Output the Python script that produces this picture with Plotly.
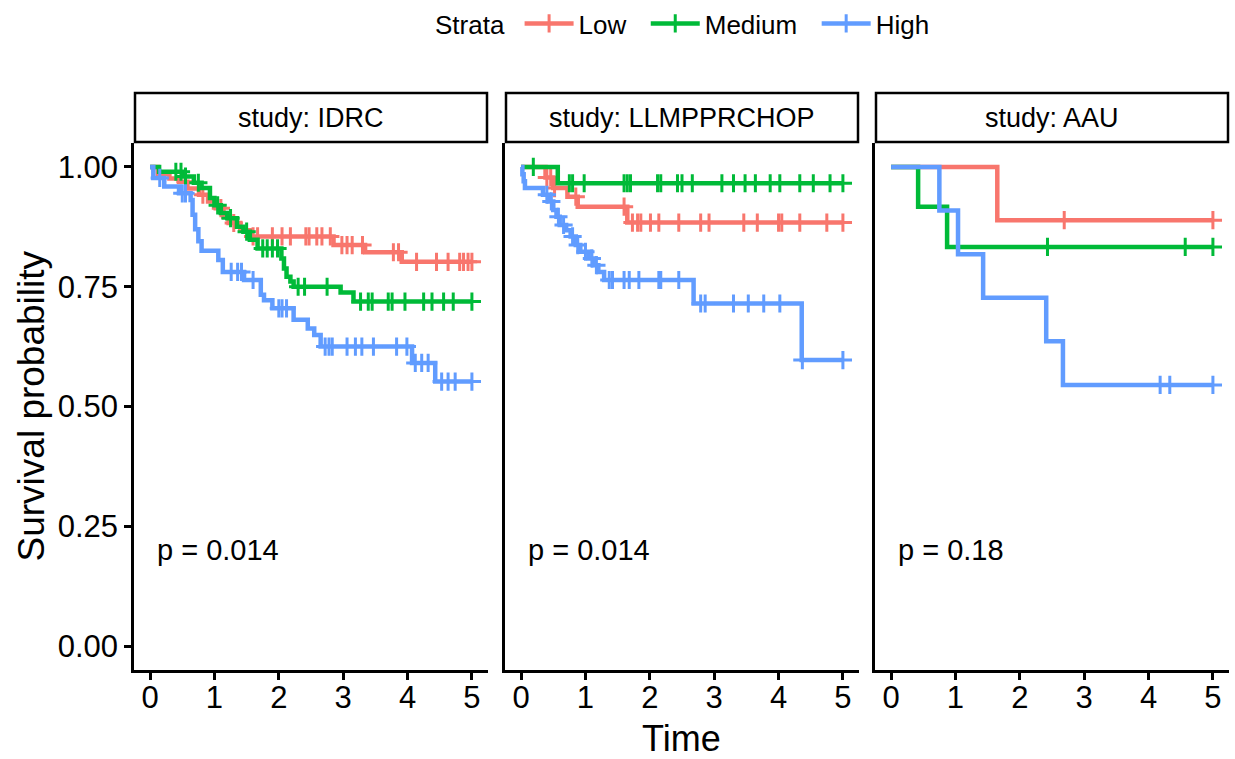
import numpy as np
import plotly.graph_objects as go

# ---------------- data ----------------
STUDIES = ["IDRC", "LLMPPRCHOP", "AAU"]
STRATA = ["Low", "Medium", "High"]
COLORS = ["#F8766D", "#00BA38", "#619CFF"]
P_VALUES = ["p = 0.014", "p = 0.014", "p = 0.18"]
Y_TICKS = [0.0, 0.25, 0.5, 0.75, 1.0]
Y_TICK_LABELS = ["0.00", "0.25", "0.50", "0.75", "1.00"]
X_TICKS = [0, 1, 2, 3, 4, 5]

# IDRC
IDRC_LOW_T = [0.12, 0.30, 0.45, 0.58, 0.76, 0.90, 1.02, 1.14, 1.22, 1.40, 1.56, 2.85, 3.34, 3.91]
IDRC_LOW_S = [0.985, 0.976, 0.969, 0.955, 0.942, 0.928, 0.914, 0.896, 0.883, 0.868, 0.855, 0.837, 0.822, 0.802]
IDRC_LOW_C = [0.55, 0.82, 1.10, 1.30, 1.60, 1.67, 1.90, 2.05, 2.18, 2.42, 2.47, 2.59, 2.67, 2.80,
              2.98, 3.06, 3.14, 3.30, 3.78, 3.86, 4.14, 4.45, 4.63, 4.81, 4.87, 4.94, 5.0]
IDRC_MED_T = [0.14, 0.53, 0.68, 0.80, 0.93, 1.00, 1.10, 1.20, 1.35, 1.45, 1.55, 1.67, 2.04, 2.08, 2.12, 2.18, 2.23, 2.96, 3.16]
IDRC_MED_S = [0.990, 0.980, 0.967, 0.956, 0.935, 0.920, 0.904, 0.893, 0.875, 0.865, 0.848, 0.830,
              0.809, 0.788, 0.771, 0.761, 0.750, 0.738, 0.719]
IDRC_MED_C = [0.40, 0.48, 0.55, 0.75, 1.05, 1.25, 1.50, 1.75, 1.82, 1.90, 1.98, 2.30, 2.40, 2.75,
              3.27, 3.39, 3.45, 3.70, 3.76, 3.96, 4.25, 4.38, 4.56, 4.71, 5.0]
IDRC_HIGH_T = [0.05, 0.22, 0.45, 0.63, 0.66, 0.70, 0.75, 0.80, 1.06, 1.13, 1.46, 1.72, 1.77, 1.90,
               2.23, 2.45, 2.55, 2.65, 4.07, 4.43]
IDRC_HIGH_S = [0.977, 0.959, 0.945, 0.931, 0.900, 0.870, 0.845, 0.825, 0.806, 0.781, 0.764, 0.733,
               0.722, 0.705, 0.681, 0.663, 0.649, 0.625, 0.591, 0.552]
IDRC_HIGH_C = [0.15, 0.50, 0.55, 1.26, 1.36, 1.42, 1.60, 2.00, 2.05, 2.12, 2.72, 2.78, 2.83, 3.06,
               3.19, 3.29, 3.47, 3.83, 3.99, 4.12, 4.22, 4.32, 4.53, 4.63, 4.74, 5.0]

# LLMPPRCHOP
LLM_LOW_T = [0.38, 0.50, 0.72, 0.88, 1.65]
LLM_LOW_S = [0.978, 0.956, 0.938, 0.917, 0.884]
LLM_LOW_C = [0.40, 0.46, 0.52, 0.85, 1.60, 1.73, 1.81, 1.86, 2.01, 2.14, 2.45, 2.79, 2.92, 3.46,
             3.67, 4.00, 4.05, 4.33, 4.75, 5.0]
LLM_MED_T = [0.57]
LLM_MED_S = [0.966]
LLM_MED_C = [0.19, 0.75, 0.80, 0.98, 1.60, 1.65, 1.70, 2.12, 2.17, 2.43, 2.50, 2.66, 3.12, 3.30,
             3.48, 3.64, 3.87, 4.02, 4.33, 4.54, 4.80, 5.0]
LLM_HIGH_T = [0.02, 0.04, 0.06, 0.34, 0.43, 0.50, 0.55, 0.60, 0.70, 0.77, 0.85, 0.92, 1.05, 1.12,
              1.20, 1.29, 2.68, 4.36]
LLM_HIGH_S = [0.985, 0.970, 0.956, 0.942, 0.928, 0.910, 0.896, 0.879, 0.868, 0.855, 0.837, 0.823,
              0.809, 0.795, 0.781, 0.764, 0.715, 0.597]
LLM_HIGH_C = [0.40, 0.47, 0.58, 0.66, 0.80, 0.88, 1.00, 1.10, 1.17, 1.37, 1.42, 1.60, 1.68, 1.83,
              2.14, 2.17, 2.45, 2.79, 2.86, 3.30, 3.53, 3.77, 4.02, 4.37, 5.0]

# AAU
AAU_LOW_T = [1.65]
AAU_LOW_S = [0.889]
AAU_LOW_C = [2.69, 5.0]
AAU_MED_T = [0.42, 0.87]
AAU_MED_S = [0.917, 0.833]
AAU_MED_C = [2.43, 4.57, 5.0]
AAU_HIGH_T = [0.75, 1.04, 1.43, 2.41, 2.67]
AAU_HIGH_S = [0.909, 0.818, 0.727, 0.636, 0.545]
AAU_HIGH_C = [4.18, 4.33, 5.0]

CURVES = [
    [(IDRC_LOW_T, IDRC_LOW_S, IDRC_LOW_C), (IDRC_MED_T, IDRC_MED_S, IDRC_MED_C), (IDRC_HIGH_T, IDRC_HIGH_S, IDRC_HIGH_C)],
    [(LLM_LOW_T, LLM_LOW_S, LLM_LOW_C), (LLM_MED_T, LLM_MED_S, LLM_MED_C), (LLM_HIGH_T, LLM_HIGH_S, LLM_HIGH_C)],
    [(AAU_LOW_T, AAU_LOW_S, AAU_LOW_C), (AAU_MED_T, AAU_MED_S, AAU_MED_C), (AAU_HIGH_T, AAU_HIGH_S, AAU_HIGH_C)],
]

# ---------------- layout geometry (pixels) ----------------
W, H = 1235, 759
FONT = "Liberation Sans, Arial, sans-serif"
PANEL_X = [(134, 488), (505, 859), (875, 1229)]
PANEL_TOP, PANEL_BOTTOM = 143, 670
STRIP_TOP = 93
LINE_W = 4.5
MARK_W = 3


def fx(p):
    return p / W


def fy(p):
    return 1 - p / H


fig = go.Figure()

for i, study in enumerate(STUDIES):
    xa = "x" if i == 0 else f"x{i + 1}"
    ya = "y" if i == 0 else f"y{i + 1}"
    for j, (T, S, C) in enumerate(CURVES[i]):
        end = max(C[-1], T[-1])
        xs = [0.0] + list(T) + [end]
        ys = [1.0] + list(S) + [S[-1]]
        fig.add_trace(go.Scatter(
            x=xs, y=ys, mode="lines", line=dict(shape="hv", color=COLORS[j], width=LINE_W),
            xaxis=xa, yaxis=ya, showlegend=False, hoverinfo="skip"))
        levels = np.array([1.0] + list(S))
        idx = np.searchsorted(np.array(T), np.array(C), side="right")
        fig.add_trace(go.Scatter(
            x=C, y=levels[idx], mode="markers",
            marker=dict(symbol="cross-thin", size=13, color=COLORS[j],
                        line=dict(width=MARK_W, color=COLORS[j])),
            xaxis=xa, yaxis=ya, showlegend=False, hoverinfo="skip"))

# legend entries
NBSP = "\u00a0"
for j, name in enumerate(STRATA):
    fig.add_trace(go.Scatter(
        x=[None], y=[None], mode="lines+markers", name=name + NBSP * 2,
        line=dict(color=COLORS[j], width=LINE_W),
        marker=dict(symbol="cross-thin", size=13, color=COLORS[j],
                    line=dict(width=MARK_W, color=COLORS[j]))))

layout = dict(
    width=W, height=H,
    margin=dict(l=0, r=0, t=0, b=0),
    paper_bgcolor="white", plot_bgcolor="white",
    font=dict(family=FONT, color="black"),
    showlegend=True,
    legend=dict(orientation="h", x=fx(691), xanchor="center", y=1.0, yanchor="top",
                title=dict(text="Strata" + NBSP, side="left", font=dict(size=26)),
                font=dict(size=26), itemwidth=49, tracegroupgap=0),
)

shapes = []
annotations = []
for i, study in enumerate(STUDIES):
    x0, x1 = PANEL_X[i]
    xkey = "xaxis" if i == 0 else f"xaxis{i + 1}"
    ykey = "yaxis" if i == 0 else f"yaxis{i + 1}"
    layout[xkey] = dict(
        domain=[fx(x0), fx(x1)], range=[-0.25, 5.25], anchor="y" if i == 0 else f"y{i + 1}",
        tickvals=X_TICKS, ticktext=[str(v) for v in X_TICKS],
        showline=True, linecolor="black", linewidth=2.5,
        ticks="outside", ticklen=7, tickwidth=2.5, tickcolor="black",
        tickfont=dict(size=31), showgrid=False, zeroline=False)
    layout[ykey] = dict(
        domain=[fy(PANEL_BOTTOM), fy(PANEL_TOP)], range=[-0.05, 1.05],
        anchor="x" if i == 0 else f"x{i + 1}",
        tickvals=Y_TICKS, ticktext=Y_TICK_LABELS,
        showline=True, linecolor="black", linewidth=2.5,
        ticks="outside" if i == 0 else "", ticklen=7, tickwidth=2.5, tickcolor="black",
        showticklabels=(i == 0), tickfont=dict(size=31),
        showgrid=False, zeroline=False)
    # strip
    shapes.append(dict(type="rect", xref="paper", yref="paper",
                       x0=fx(x0 + 1), x1=fx(x1 - 1), y0=fy(PANEL_TOP - 1), y1=fy(STRIP_TOP),
                       line=dict(color="black", width=2.5), fillcolor="white"))
    annotations.append(dict(text=f"study: {study}", xref="paper", yref="paper",
                            x=fx((x0 + x1) / 2), y=fy((STRIP_TOP + PANEL_TOP) / 2),
                            xanchor="center", yanchor="middle", showarrow=False,
                            font=dict(size=27)))
    # p value
    annotations.append(dict(text=P_VALUES[i], xref="x" if i == 0 else f"x{i + 1}",
                            yref="y" if i == 0 else f"y{i + 1}",
                            x=0.08, y=0.2, xanchor="left", yanchor="middle",
                            showarrow=False, font=dict(size=29)))

annotations.append(dict(text="Time", xref="paper", yref="paper",
                        x=fx((PANEL_X[0][0] + PANEL_X[2][1]) / 2), y=fy(738),
                        xanchor="center", yanchor="middle", showarrow=False,
                        font=dict(size=36)))
annotations.append(dict(text="Survival probability", xref="paper", yref="paper",
                        x=fx(31), y=fy((PANEL_TOP + PANEL_BOTTOM) / 2), textangle=-90,
                        xanchor="center", yanchor="middle", showarrow=False,
                        font=dict(size=37)))

layout["shapes"] = shapes
layout["annotations"] = annotations
fig.update_layout(**layout)

# pull the x tick labels a little closer to the axis, as in the reference
for i in range(3):
    key = "xaxis" if i == 0 else f"xaxis{i + 1}"
    try:
        fig.layout[key].ticklabelstandoff = -9
    except Exception:
        pass

fig.write_html("out.html")
